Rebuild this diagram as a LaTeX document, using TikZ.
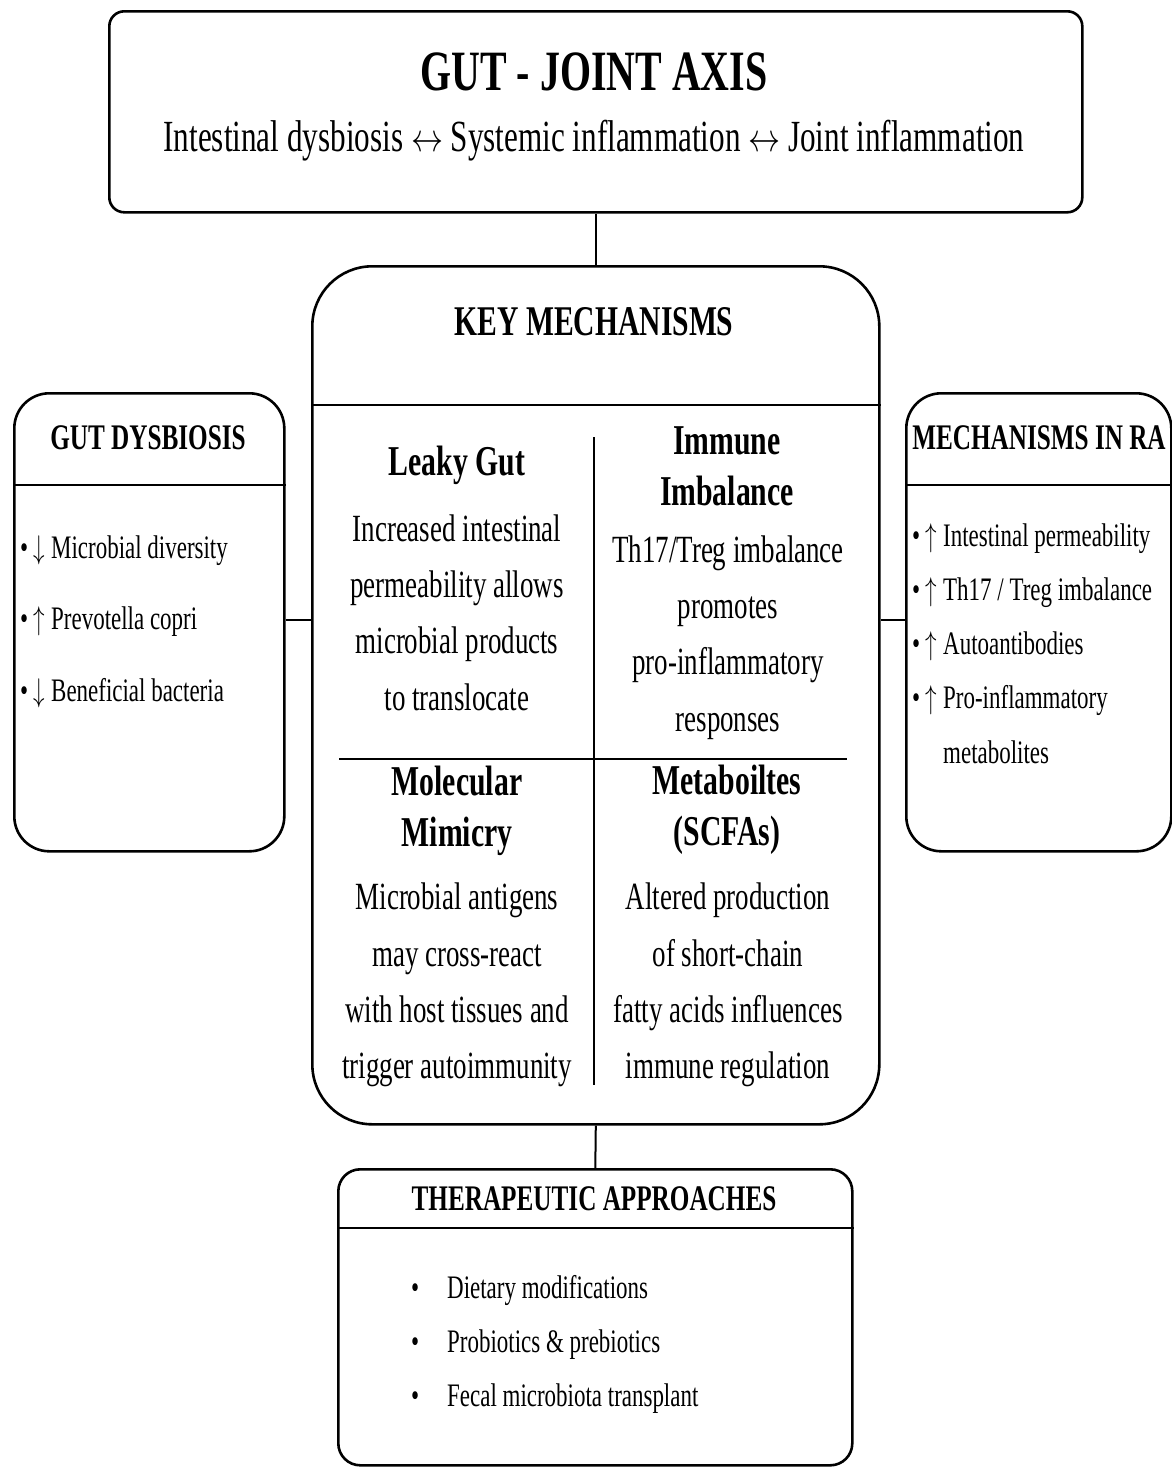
\RequirePackage{fix-cm}
\documentclass[tikz,border=0pt]{standalone}
\usepackage{graphicx}
\usepackage{fontspec}
\setmainfont{Liberation Serif}[FakeStretch=0.7]
\newcommand{\myup}{\scalebox{0.7}[1]{$\uparrow$}}
\newcommand{\mydown}{\scalebox{0.7}[1]{$\downarrow$}}
\newcommand{\mylr}{\scalebox{0.72}[0.9]{$\leftrightarrow$}}
\begin{document}
\begin{tikzpicture}[x=1pt,y=-1pt,
  box/.style={draw, line width=2.6pt, rounded corners=#1, inner sep=0pt, anchor=north west},
  box/.default=15pt,
  sepline/.style={line width=2.6pt},
  conn/.style={line width=2pt},
  divline/.style={line width=2pt},
  bigtitle/.style={font={\fontsize{57}{68}\selectfont\bfseries}, inner sep=0pt},
  subtitle/.style={font={\fontsize{44.5}{52}\selectfont}, inner sep=0pt},
  keytitle/.style={font={\fontsize{42.3}{50}\selectfont\bfseries}, inner sep=0pt},
  celltitle/.style={font={\fontsize{42.5}{51}\selectfont\bfseries}, align=center, inner sep=0pt},
  cellbody/.style={font={\fontsize{38.5}{56.3}\selectfont}, align=center, inner sep=0pt},
  boxtitle/.style={font={\fontsize{36}{42}\selectfont\bfseries}, inner sep=0pt},
  bullets/.style={font={\fontsize{32.8}{#1}\selectfont}, align=left, inner sep=0pt, anchor=west},
  bullets/.default=54pt
]
\useasboundingbox[fill=white] (0,0) rectangle (1172,1467);

% boxes
\node[box=15pt, minimum width=973pt, minimum height=201pt] (top) at (108,10) {};
\node[box=60pt, minimum width=567pt, minimum height=858pt] (center) at (311,265) {};
\node[box=35pt, minimum width=270pt, minimum height=458pt] (left) at (13,392) {};
\node[box=35pt, minimum width=265pt, minimum height=458pt] (right) at (905,392) {};
\node[box=22pt, minimum width=514pt, minimum height=296pt] (bottom) at (337,1168) {};

% header separators
\draw[sepline] (center.west |- 0,405) -- (center.east |- 0,405);
\draw[sepline] (left.west |- 0,485) -- (left.east |- 0,485);
\draw[sepline] (right.west |- 0,485) -- (right.east |- 0,485);
\draw[sepline] (bottom.west |- 0,1228) -- (bottom.east |- 0,1228);

% inner dividers
\draw[divline] (594,437) -- (594,1085);
\draw[line width=2.6pt] (339,759) -- (847,759);

% connectors
\draw[conn] (top.south) -- (center.north);
\draw[conn] (center.south) -- (bottom.north);
\coordinate (lc) at (left.east |- 0,620);
\coordinate (rc) at (right.west |- 0,620);
\draw[conn] (lc) -- (lc -| center.west);
\draw[conn] (rc) -- (rc -| center.east);

% top texts
\node[bigtitle] (t1) at (594,72) {GUT - JOINT AXIS};
\node[subtitle] (t2) at (594,141) {Intestinal dysbiosis \mylr{} Systemic inflammation \mylr{} Joint inflammation};

% center
\node[keytitle] (k1) at (594,322) {KEY MECHANISMS};
\node[celltitle] (c1t) at (457,465) {Leaky Gut};
\node[cellbody] (c1b) at (457,612.5) {Increased intestinal\\permeability allows\\microbial products\\to translocate};
\node[celltitle] (c2t) at (727,466.5) {Immune\\Imbalance};
\node[cellbody] (c2b) at (728,637.5) {Th17/Treg imbalance\\promotes\\pro-inflammatory\\responses};
\node[celltitle] (c3t) at (457,811) {Molecular\\Mimicry};
\node[cellbody] (c3b) at (457,985) {Microbial antigens\\may cross-react\\with host tissues and\\trigger autoimmunity};
\node[celltitle] (c4t) at (727,810) {Metaboiltes\\(SCFAs)};
\node[cellbody] (c4b) at (728,985) {Altered production\\of short-chain\\fatty acids influences\\immune regulation};

% left box
\node[boxtitle] (l1) at (148,438) {GUT DYSBIOSIS};
\node[bullets=71.5pt] (l2) at (20,621.5) {• \mydown{} Microbial diversity\\• \myup{} Prevotella copri\\• \mydown{} Beneficial bacteria};

% right box
\node[boxtitle] (r1) at (1039,438) {MECHANISMS IN RA};
\node[bullets=54.25pt] (r2) at (912,646.5) {• \myup{} Intestinal permeability\\• \myup{} Th17 / Treg imbalance\\• \myup{} Autoantibodies\\• \myup{} Pro-inflammatory\\\phantom{• \myup{} }metabolites};

% bottom box
\node[boxtitle] (b1) at (594,1199) {THERAPEUTIC APPROACHES};
\node[bullets=54pt] (b2) at (411,1344) {\makebox[36pt][l]{•}Dietary modifications\\\makebox[36pt][l]{•}Probiotics \& prebiotics\\\makebox[36pt][l]{•}Fecal microbiota transplant};
\end{tikzpicture}
\end{document}
